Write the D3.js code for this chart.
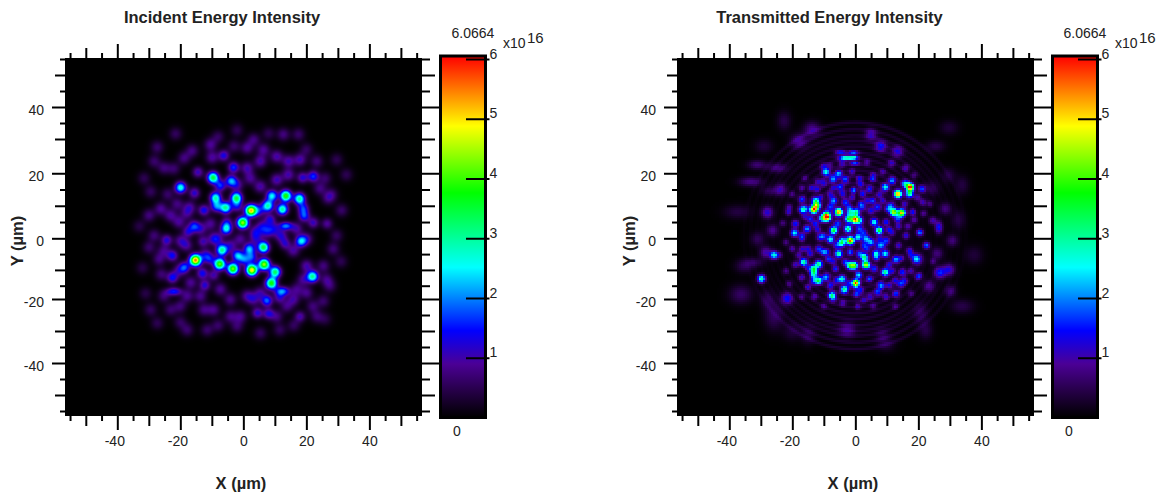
<!DOCTYPE html>
<html>
<head>
<meta charset="utf-8">
<title>Energy intensity</title>
<script src="https://cdn.jsdelivr.net/npm/d3@7/dist/d3.min.js"></script>
<style>
  html, body { margin: 0; background: #fff; }
  text { font-family: "Liberation Sans", Arial, sans-serif; fill: #222; }
</style>
</head>
<body>
<svg id="chart" width="1160" height="494"></svg>
<script>
// colour bar stops, 1e16 units
const colorValues = [0, 0.45, 0.9, 1.46, 2.52, 3.77, 4.89, 6.0664];
const colorNames = ["#000000", "#260048", "#4b0096", "#0000ff", "#00ffff", "#00ff00", "#ffff00", "#ff0000"];
const barTicks = [1, 2, 3, 4, 5, 6];
const xyTicks = d3.range(-55, 56, 5);

// speckle: [x um, y um, intensity, sigma x, sigma y]
const incidentPeaks = [
  [-19.9,15.1,2.7],[-9.6,18.2,3.5],[-7.3,15.7,1.6],[-6.2,25.1,1.3],[-3.1,21.4,1.6],[-3.9,17.2,2.0],
  [-14.4,19.9,1.1],[-15.5,13.4,1.2],[-8.8,11.9,2.8],[-8.5,9.2,1.8],[-5.6,8.8,3.0],[-2.2,11.8,3.4],
  [-2,9.2,1.2],[-12.5,8,1.4],[2.4,7.9,5.0],[-0.2,4.1,4.4],[-5.4,2.2,2.5],[-5.2,4.3,1.0],
  [9.1,12.5,2.5],[7.8,9.4,2.8],[13.5,12.5,3.9],[12.4,8.3,3.0],[17.8,11.6,3.0],[19,8.6,1.5],[19.3,6.2,1.6],
  [18.8,18.2,1.2],[22.2,18.6,1.6],[22.2,4.1,1.1],[26.6,3.8,0.9],[8.5,5.2,1.2],[13.5,3.1,1.9,1.5,.9],
  [18.3,-1.7,2.2],[-15.7,3.1,1.4],[-17.5,1.3,1.1],[-24.3,-1.3,1.2],[-22.5,-6.2,1.4],[-15.2,-7.6,5.5],
  [-18.6,-9.8,1.6],[-22.5,-13.1,1.4],[-22,-17.4,1.5,1.7,.9],[-13,-11.7,1.4],[-12.2,-15.4,1.2],
  [-10.6,-7.3,1.1],[-9.4,-12.3,1.0],[-12.8,-1.8,1.0],[-7.5,-8.8,4.1],[-6.8,-4.5,3.0],[-3.3,-10.3,4.2],
  [-1.8,-6.2,2.2],[1.9,-4.1,2.2],[6.4,-3.6,3.5],[0.3,-7.4,1.6],[2.7,-6.7,1.5],[2.7,-10.7,5.0],
  [6.6,-8.9,4.4],[10.1,-11.3,3.3],[8.9,-14.8,3.8],[12.3,-17.3,2.0,1.6,1],[11.5,-19.4,1.0],[22,-12.7,3.0],
  [7.5,-20.3,1.8],[4.5,-24.1,1.2],[8,-24.3,1.2],[18,-25.2,1.0],[13.3,-2.5,1.0]
];
const incidentFaint = [
  [-27.3,27.7,.5],[-28.3,23.3,.5],[-25.2,21.2,.55],[-21.5,31.9,.45],[-16.2,26.6,.6],[-10.4,28.5,.7],
  [-9.9,24.5,.75],[-18.8,24.3,.6],[1.2,27.5,.7],[3.3,30.1,.6],[6.4,26.9,.7],[5.4,23.3,.8],[10.6,24.8,.8],
  [14.3,23.3,.8],[12.7,31.7,.6],[17.5,31.7,.5],[18,23.8,.8],[10.6,17.5,.85],[14.3,19.1,.8],[5.4,15.4,.8],
  [2.2,18,.7],[1.2,21.2,.8],[-26.2,8.5,.7],[-29.9,6.4,.6],[-23.1,6.4,.7],[-20.4,4.3,.7],[-28.3,.1,.55],
  [-29.9,-3.6,.5],[-25.2,-4.6,.6],[-19.9,-1.5,.7],[-10.4,3.8,.7],[-13.6,2.2,.8],[-4.1,-3.1,.8],
  [-29.4,-23.1,.45],[-25.2,-18.8,.55],[-17.8,-18.8,.65],[-16.7,-14.6,.7],[-7.3,-16.7,.7],[-4.1,-19.9,.65],
  [-.9,-25.2,.65],[3.3,-19.9,.7],[-17.8,-29.4,.5],[-11.5,-29.4,.5],[-2,-28.3,.5],[15.9,-19.9,.7],
  [20.1,-17.8,.65],[20.1,-9.4,.8],[25.4,-9.4,.6],[28.5,-4.1,.55],[26.4,-13.6,.6],[27.5,-15.7,.5],
  [25.4,-20.4,.5],[29.6,.1,.45],[31.2,8,.5],[26.9,11.7,.55],[24.3,14.8,.6],[29.6,23.8,.4],[32.7,19.1,.4],
  [23.3,23.3,.55],[-31.5,18,.4],[-29.4,13.8,.45],[-2,15.9,.8],[20.1,-.9,.7],[15.9,-4.6,.75],[7.5,1.2,.8],
  [9.6,2.2,.8],[16.9,2.2,.75],[3.8,1.2,.8],[-9.4,-.9,.8],[-20.4,-10.9,.7],[-26.7,-7.3,.6],[19.1,-13.6,.7],
  [16.9,-16.7,.6],[5.4,-17.8,.7],[1.2,-18.8,.7],[-12.5,-23.1,.6],[-9.4,-23.1,.65],[-13.6,-18.8,.65],
  [-4.1,-25.2,.6],[10.6,-25.2,.6],[13.8,-22,.6],[23.3,-25.2,.5],[-23.1,-23.1,.5],[-27.3,-27.3,.4],
  [11.6,-29.4,.45],[5.4,-30.4,.45],
  [-1,-1,.7],[4,-1,.7],[12,0,.9],[-18,-3,.7],[-17,9,.7],[-21,10,.6],[-18,7,.6],[-24,13,.5],[5,8,1],[6,3,.8],
  [-12,-6,.9],[-8,-1,.6],[-22,21,.5],[-3,28,.5],[-8,31,.45],[20,27,.45],[26,18,.5],[28,13,.5],[-26,-12,.55],
  [-20,-22,.55],[-8,-28,.5],[16,-28,.45],[22,-22,.55],[26,-26,.35],[31,-8,.4],[-32,-10,.35],[-31,-18,.35],
  [-33,3,.35],[-20,-27,.45],[-2,33,.4],[8,32,.4]
];
const transmittedPeaks = [
  [-4.7,26.2,1.6,1.2,.45],[-.5,26.1,1.7,1.2,.45],[-2.6,24.4,3,1.8,.5],[0,24.5,1.5,1,.45],[0,22.7,1.6,1.2,.45],
  [-4.2,22.7,1],[-10,21.7,1],[16.3,21.2,1],[11.8,22.7,1],
  [-9.3,19.9,2.5],[-5.3,19.4,2],[-7.1,17.8,2],[-3.2,17.6,1.6],[-4.8,15.2,1.5],[-10.1,16.6,1.2],[12,17.3,2],
  [9.8,15.2,2.5],[16.1,16.3,2.5],[17.7,15.2,6],[21.5,14.7,1.6],[13.8,13.1,5.5],[17.5,13.1,3],[11.6,9.5,1.5],
  [12.5,7.4,4.5],[15,7.2,5],[13.8,5.3,1.5],[24.9,4.8,1],[21.7,10.5,1],[-16.9,11.4,1.5],[-12.7,11,2.5],
  [-12.2,9.5,3.6],[-13.2,8.2,5.5],[-16.9,8.2,2],[-15.9,8.4,1.5],[-19,3.8,1.5],[-19.3,.9,2.5],[-15.3,2.2,2],
  [-10.6,5.5,2.5],[-9,5.8,5.5],[-9.2,6.9,2],[-6.9,11,2],[-5.3,7.4,5.5],[-7.9,9,1.5],[-3.2,10.5,1.5],
  [-5.6,3.8,1.5],[.5,7.4,3],[-1.6,7.4,2.5],[-2.1,5.3,3.4],[0,5.1,5.5],[1.6,4.8,2.5],[6.3,4.3,2.5],[7.9,1.7,3.5],
  [-2.3,2.2,3],[-6.9,1.7,3.5],[-7.9,-1.1,2.5],[-1.6,-1.5,5.5],[1.1,-.4,2.5],[-4.4,-2.2,3],[-11.1,-.4,1.5],
  [5.3,7.9,1.2],[7.4,9,1.5],[2.6,9,1.2],[1.6,2.2,1.5],[-5.3,-5.6,3],[-11.6,-4.1,1.5],[-16.4,-8.2,3],
  [-11.6,-8.8,3],[-13.2,-10.3,3],[-13.2,-11.9,2.5],[-11.6,-14,3],[-9.3,-12.9,2],[-1.6,-9.3,3.5],[0,-9.3,3.5],
  [3.7,-9.1,4.6],[3.2,-6.7,3],[6.9,-5.6,2.5],[9.8,-5.6,2.5],[13.2,-7.4,2],[6.3,-10.3,1.5],[9.8,-11.4,3],
  [1.6,-5.6,1.5],[-4.2,-13.4,2.5],[-7.4,-18.6,3],[-3.5,-16.8,3],[.3,-14.8,6],[8.5,-15.5,2],[7.4,-17.6,1.5],
  [15.3,-11.4,1.5],[14.8,-15,1.5],[13.2,-18.1,1.5],[-13.2,-14,1.5],[.5,-18.1,1.5],[5.3,-2,2],[7.9,-3,1.5],
  [10.1,-1.5,1.5],[3.7,-.9,2],[19.6,-7.2,1.2]
];
const transmittedWeb = [
  [-10.1,-5.1,1.3],[-8.5,-7.2,1.2],[-3.2,-8.2,1.2],[-6.3,-10.3,1.2],[1.6,-12.4,1.2],[4.8,-13.4,1.2],[11.1,-15.5,1],
  [-1.6,-5.1,1.4],[-7.9,-15.5,1.2],[-14.3,-5.6,1],[-16.9,-4.1,.9],[-16.9,.1,1],[-12.7,3.8,1.2],[-21.2,7.4,.9],
  [4.8,14.7,1.2],[2.6,13.1,1.2],[-.5,14.2,1.4],[5.8,11,1.3],[1.6,17.8,1],[5.8,17.8,1],[-12.2,14.7,1],[-14.3,5.3,1.2],
  [10.1,4.3,1.2],[16.4,.1,1],[20.6,1.1,.9],[17.5,-4.6,1],[20.6,-12.4,1],[10.6,8.4,1.2],[18.5,7.4,1.2],[22.8,-3,.9],
  [-14,15,.9],[-8,13,.9],[-4,13,1],[2,16,.9],[8,13,.9],[-12,2,1],[-17,-1,.8],[-6,-3,1],[4,-4,1],[8,-1,.9],[11,2,1],
  [14,3,.9],[19,5,.8],[21,1,.8],[-20,-4,.8],[-19,-9,.9],[-17,-13,.9],[-15,-16,.9],[-13,-19,.8],[-6,-14,1],[-2,-15,1],
  [2,-17,1],[5,-19,.9],[10,-19,.9],[13,-14,1],[16,-14,.9],[18,-11,.8],[18,-6,.8],[14,-3,.9],[11,-9,1],[7,-7,1],
  [-2,9,1],[2,10,1],[-15,-4,.9],[-9,-5,1],[1,-12,1],[4,11,.9],[-7,15,.8],[-12,17,.7],[-17,15,.7],[6,19,.7],[-1,20,.8],
  [4,23,.7],[9,20,.7],[16,10,.9],[20,12,.8],[22,7,.7],[23,-3,.7],[20,-13,.6],[-21,9,.7],[-22,-2,.6],[-22,-11,.6],
  [-4,-21,.8],[1,-22,.7],[6,-22,.6],[-10,-22,.6],
  [-23,4,.6],[-24,-6,.6],[-20,13,.6],[-16,18,.6],[-8,22,.6],[19,19,.6],[24,10,.6],[25,-8,.6],[18,-18,.6],[13,-22,.6],
  [-17,-19,.6],[-21,-15,.6],[-7,-20,.7],[3,-20,.8],[-11,12,.8],[-16,6,.8],[-10,0,.9],[-4,-1,.9],[3,1,1],[9,-3,.9],
  [12,-11,.9],[3,-3,1],[-1,12,.9],[9,11,.8],[12,1,.8],[17,3,.8],[15,-7,.8],[-18,-6,.8],[-15,-10,.8],[-7,-8,.9]
];
const transmittedHalo = [
  [-29.8,-13.4,3,.85,.85],[-25.8,-6,2.6,.85,.85],[-28.4,-5.2,1],[-21.6,-19.5,1.4],[-27.9,7.3,1.2],[-26.3,1.7,.8],
  [-23.7,14.5,.9],[26.8,2.7,1.5,.8,1.3],[28.9,8.5,.7],[27.1,-11.5,1.5],[30,-10.6,1.2],[20,-7.3,1.3],[23.7,-15.7,.8],
  [30.5,-17.3,.7],[26.3,-5.5,.7],[31.1,-1.5,.7],[8.4,28,1.3],[13.7,26.4,1.1],[5.3,31.7,1],
  [-33.2,16.9,.8,2.5,1],[-31.1,22.2,.7,2,1],[-24.7,21.2,.7,2,1],[-17.9,29.6,.85,1.8,1.6],[-13.7,33.3,.85,1.8,1.6],
  [-22.6,35.9,.45,1.5,2],[25.8,28,.45,2,1.2],[-36.3,-18.3,.6,2.5,2],[-25.8,-25.2,.55,2,3],[-2.6,-29.4,.7,1.8,1.6],
  [22.6,-29.4,.45,1.5,2],[34.2,-22,.45,2.5,1.5],[34.2,15.9,.4,1.5,2],[30,33.8,.35,2,1.5],[24.7,14.8,.45,1.5,1.5],
  [-37.4,7.5,.4,3,1.5],[-32.1,-8.3,.45,2,1],[-35.3,-9.4,.5,2,1.5],[-20,-30,.35,2,2],[10,-34,.35,2,1.5],[38,-6,.35,2,2],
  [-28,-20,.45,1.5,2],[-31,-1,.5,1.5,1.5],[-27,14,.45,2,1],[-29,28,.35,2,1.5],[21,-24,.45,1.5,2],[30,19,.4,1.5,1.5],
  [-15,-31,.45,1.5,2],[9,-31,.4,1.5,1.5],[33,5,.4,1.5,2],[0,0,.28,13,13]
];
// diffraction rings around the transmitted spot, radius in um
const ringRadii = [14.5, 16.5, 18.5, 20.5, 22.3, 24.2, 26, 28, 29.7, 31.3, 33.3, 35.4];

const svg = d3.select("#chart");

const lut = d3.scaleLinear().domain(colorValues).range(colorNames).clamp(true);
const lutColors = d3.range(512).map(i => d3.rgb(lut(i / 511 * 6.0664)));

function fieldImage(x, y, w, h, step, spots, rings) {
  const nx = Math.ceil(w / step), ny = Math.ceil(h / step);
  const grid = new Float32Array(nx * ny);
  const xs = d3.range(nx).map(i => x.invert(x.range()[0] + (i + .5) * step));
  const ys = d3.range(ny).map(j => y.invert(y.range()[1] + (j + .5) * step));
  spots.forEach(s => {
    const i0 = Math.max(0, Math.floor((x(s[0] - 4 * s[3]) - x.range()[0]) / step));
    const i1 = Math.min(nx - 1, Math.ceil((x(s[0] + 4 * s[3]) - x.range()[0]) / step));
    const j0 = Math.max(0, Math.floor((y(s[1] + 4 * s[4]) - y.range()[1]) / step));
    const j1 = Math.min(ny - 1, Math.ceil((y(s[1] - 4 * s[4]) - y.range()[1]) / step));
    for (let j = j0; j <= j1; j++) for (let i = i0; i <= i1; i++) {
      const dx = (xs[i] - s[0]) / s[3], dy = (ys[j] - s[1]) / s[4];
      grid[j * nx + i] += s[2] * Math.exp(-.5 * (dx * dx + dy * dy));
    }
  });
  if (rings) {
    for (let j = 0; j < ny; j++) for (let i = 0; i < nx; i++) {
      const r = Math.hypot(xs[i], ys[j]);
      if (r < 1) continue;
      const up = Math.abs(ys[j]) / r;
      const weight = .15 + .85 * up * up;
      rings.forEach(rr => {
        const d = (r - rr) / .45;
        if (Math.abs(d) < 4) grid[j * nx + i] += .3 * weight * Math.exp(-.5 * d * d);
      });
    }
  }
  const cv = document.createElement("canvas");
  cv.width = nx; cv.height = ny;
  const ctx = cv.getContext("2d");
  const img = ctx.createImageData(nx, ny);
  grid.forEach((v, k) => {
    const c = lutColors[Math.min(511, Math.round(v / 6.0664 * 511))];
    img.data[k * 4] = c.r; img.data[k * 4 + 1] = c.g; img.data[k * 4 + 2] = c.b; img.data[k * 4 + 3] = 255;
  });
  ctx.putImageData(img, 0, 0);
  return cv.toDataURL();
}

function tickLen(v) { return v % 20 === 0 ? 14 : v % 10 === 0 ? 10 : 5; }
function styleAxis(g) {
  g.select(".domain").remove();
  g.selectAll("line").attr("stroke", "#000").attr("stroke-width", 2);
  g.selectAll("text").attr("font-size", 14).attr("fill", "#222");
}

function panel(offset, title, titleX, spots, step, rings) {
  const g = svg.append("g").attr("transform", `translate(${offset},0)`);
  const left = 65, top = 58, w = 357, h = 358;

  const x = d3.scaleLinear().domain([-56.6, 56.7]).range([left, left + w]);
  const y = d3.scaleLinear().domain([-56.3, 55.6]).range([top + h, top]);
  // the tick marks in the source are not quite evenly spaced
  const yTickScale = d3.scaleLinear()
    .domain([55, 30, 25, 0, -15, -20, -55])
    .range([59, 139, 157, 238.3, 285.7, 299, 411]);

  g.append("rect").attr("x", left).attr("y", top).attr("width", w).attr("height", h).attr("fill", "#000");
  g.append("image").attr("x", left).attr("y", top).attr("width", w).attr("height", h)
    .attr("preserveAspectRatio", "none")
    .style("image-rendering", step > 1 ? "pixelated" : "auto")
    .attr("href", fieldImage(x, y, w, h, step, spots, rings));

  const showMajor = v => v % 20 === 0 ? v : "";
  const bottom = g.append("g").attr("transform", `translate(0,${top + h})`)
    .call(d3.axisBottom(x).tickValues(xyTicks).tickFormat(showMajor).tickSize(14));
  styleAxis(bottom);
  bottom.selectAll("line").attr("y2", tickLen);
  bottom.selectAll("text").attr("y", 30).attr("dy", 0).attr("dx", v => v < 0 ? -3 : 0);

  const topAxis = g.append("g").attr("transform", `translate(0,${top})`)
    .call(d3.axisTop(x).tickValues(xyTicks).tickFormat("").tickSize(14));
  styleAxis(topAxis);
  topAxis.selectAll("line").attr("y2", v => -tickLen(v));

  const leftAxis = g.append("g").attr("transform", `translate(${left},0)`)
    .call(d3.axisLeft(yTickScale).tickValues(xyTicks).tickFormat(showMajor).tickSize(13).tickPadding(8));
  styleAxis(leftAxis);
  leftAxis.selectAll("line").attr("x2", v => -Math.min(tickLen(v), 13));
  leftAxis.selectAll("text").attr("y", 3);

  const rightAxis = g.append("g").attr("transform", `translate(${left + w},0)`)
    .call(d3.axisRight(yTickScale).tickValues(xyTicks).tickFormat("").tickSize(14));
  styleAxis(rightAxis);
  rightAxis.selectAll("line").attr("x2", v => v % 20 === 0 ? 17 : tickLen(v) + 3);

  // colour bar
  const barL = 442, barW = 42, barTop = 55;
  const barY = d3.scaleLinear().domain([0, 6]).range([417.5, 59]);
  const gid = "bar" + offset;
  const grad = svg.append("defs").append("linearGradient").attr("id", gid)
    .attr("x1", 0).attr("x2", 0).attr("y1", 1).attr("y2", 0);
  colorValues.forEach((v, i) => grad.append("stop")
    .attr("offset", v / 6.0664).attr("stop-color", colorNames[i]));
  g.append("rect").attr("x", barL - 1.5).attr("y", barTop + 1)
    .attr("width", barW + 3).attr("height", 417.5 - barTop - 1)
    .attr("fill", `url(#${gid})`).attr("stroke", "#000").attr("stroke-width", 3);

  const barAxis = g.append("g").attr("transform", `translate(${barL + barW + 5.5},0)`)
    .call(d3.axisRight(barY).tickValues(barTicks).tickFormat(d3.format("d")).tickSize(-23.5));
  styleAxis(barAxis);
  barAxis.selectAll("text").attr("y", -1).attr("dy", 0).attr("x", 0);

  g.append("text").attr("x", 457).attr("y", 436).attr("text-anchor", "middle").attr("font-size", 14).text("0");
  g.append("text").attr("x", 473).attr("y", 38).attr("text-anchor", "middle").attr("font-size", 14).text("6.0664");
  g.append("text").attr("x", 503).attr("y", 48).attr("font-size", 14).text("x10");
  g.append("text").attr("x", 527).attr("y", 43).attr("font-size", 15).text("16");

  g.append("text").attr("x", titleX - offset).attr("y", 23).attr("text-anchor", "middle")
    .attr("font-size", 16.5).attr("font-weight", "bold").text(title);
  g.append("text").attr("x", 241).attr("y", 489).attr("text-anchor", "middle")
    .attr("font-size", 16.5).attr("font-weight", "bold").text("X (µm)");
  g.append("text").attr("transform", "translate(23,241) rotate(-90)").attr("text-anchor", "middle")
    .attr("font-size", 16.5).attr("font-weight", "bold").text("Y (µm)");
}

const withSigma = (sig, gain) => s => s.length > 3 ? s : [s[0], s[1], s[2] * gain, sig, sig];
panel(0, "Incident Energy Intensity", 222,
  incidentPeaks.map(withSigma(1.22, 1)).concat(incidentFaint.map(withSigma(1.4, 1.25))), 1, null);
panel(612, "Transmitted Energy Intensity", 829.5,
  transmittedPeaks.map(withSigma(.82, 1))
    .concat(transmittedWeb.map(withSigma(.72, 1.2)))
    .concat(transmittedHalo.map(withSigma(1.25, 1))),
  2, ringRadii);
</script>
</body>
</html>
